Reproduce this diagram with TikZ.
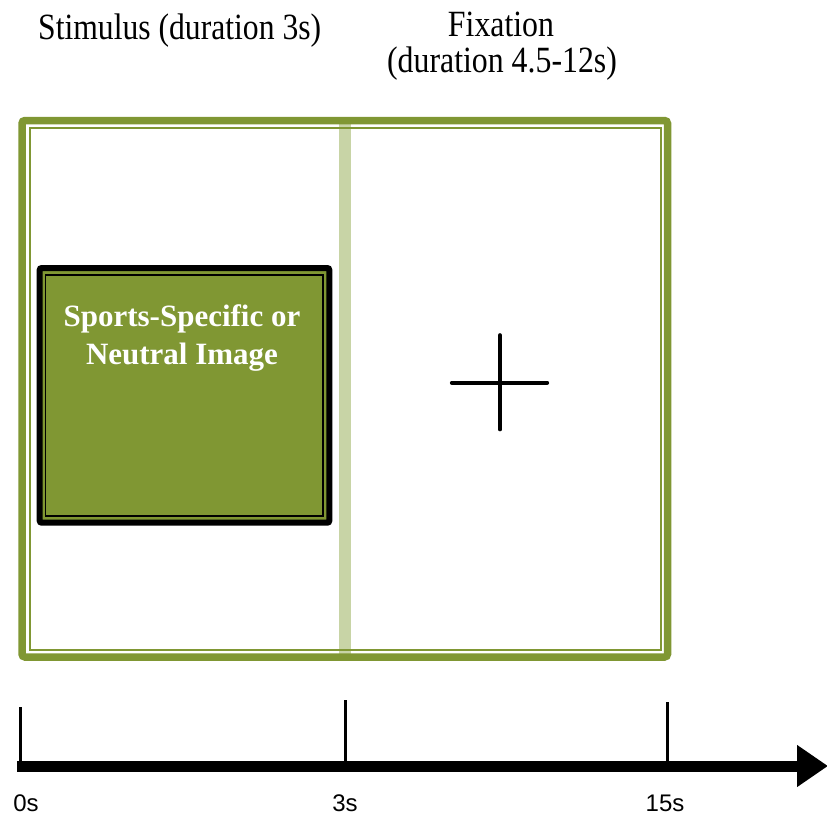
\documentclass[tikz,border=0pt]{standalone}
\usepackage{fontspec}
\setmainfont{Liberation Serif}
\newfontfamily\axisfont{Liberation Sans}
\usetikzlibrary{arrows.meta}

\definecolor{olive}{RGB}{128,151,51}
\definecolor{oliveLight}{RGB}{200,212,166}

\tikzset{
  frameouter/.style={draw=olive, line width=7.5pt, rounded corners=3pt},
  frameinner/.style={draw=olive, line width=2pt},
  divider/.style={fill=oliveLight, draw=none},
  imgouter/.style={draw=black, fill=olive, line width=6pt, rounded corners=2pt},
  imginner/.style={draw=black, line width=1.8pt},
  imgtext/.style={text=white, font=\bfseries\fontsize{31}{37.5}\selectfont, anchor=base, inner sep=0pt},
  heading/.style={font=\fontsize{37}{40}\selectfont, inner sep=0pt},
  fixcross/.style={draw=black, line width=3.6pt, line cap=round},
  timeaxis/.style={draw=black, line width=11pt, -{Triangle[length=31pt,width=40pt]}},
  tickmark/.style={draw=black, line width=3pt},
  ticklabel/.style={font=\axisfont\fontsize{24}{28}\selectfont, anchor=base, inner sep=0pt}
}

\begin{document}
\begin{tikzpicture}[x=1pt,y=-1pt]
\useasboundingbox (0,0) rectangle (827,817);

% headings (narrow serif)
\node[heading, anchor=base west] (hstim) at (38,39.5) {\scalebox{0.855}[1]{Stimulus (duration 3s)}};
\node[heading, anchor=base] (hfix1) at (501,36) {\scalebox{0.86}[1]{Fixation}};
\node[heading, anchor=base] (hfix2) at (502,72.5) {\scalebox{0.86}[1]{(duration 4.5-12s)}};

% trial frame
\path[divider] (339.3,124) rectangle (350.7,653.5);
\draw[frameouter] (22,120.5) rectangle (667.5,657);
\draw[frameinner] (29.5,128) rectangle (660.5,650);

% stimulus image
\draw[imgouter] (39.7,268) rectangle (329.3,522.7);
\draw[imginner] (45.5,275) rectangle (323.3,515.8);
\node[imgtext] (img1) at (182,326.7) {Sports-Specific or};
\node[imgtext] (img2) at (182,364) {Neutral Image};

% fixation cross
\coordinate (fix) at (500,382.7);
\coordinate (fixL) at (451.7,382.7);
\coordinate (fixR) at (547.3,382.7);
\coordinate (fixT) at (500,335);
\coordinate (fixB) at (500,429.5);
\draw[fixcross] (fixL) -- (fixR);
\draw[fixcross] (fixT) -- (fixB);

% time axis
\coordinate (t0) at (20,766);
\coordinate (t3) at (345,766);
\coordinate (t15) at (667,766);
\coordinate (tend) at (828,766);
\coordinate (k0) at (20,707);
\coordinate (k3) at (345,700);
\coordinate (k15) at (667,702);
\draw[tickmark] (k0) -- (t0);
\draw[tickmark] (k3) -- (t3);
\draw[tickmark] (k15) -- (t15);
\draw[timeaxis] ([xshift=-3pt]t0) -- (tend);

\node[ticklabel] (l0) at (26,811.5) {0s};
\node[ticklabel] (l3) at (345,811.5) {3s};
\node[ticklabel] (l15) at (665,811.5) {15s};
\end{tikzpicture}
\end{document}
